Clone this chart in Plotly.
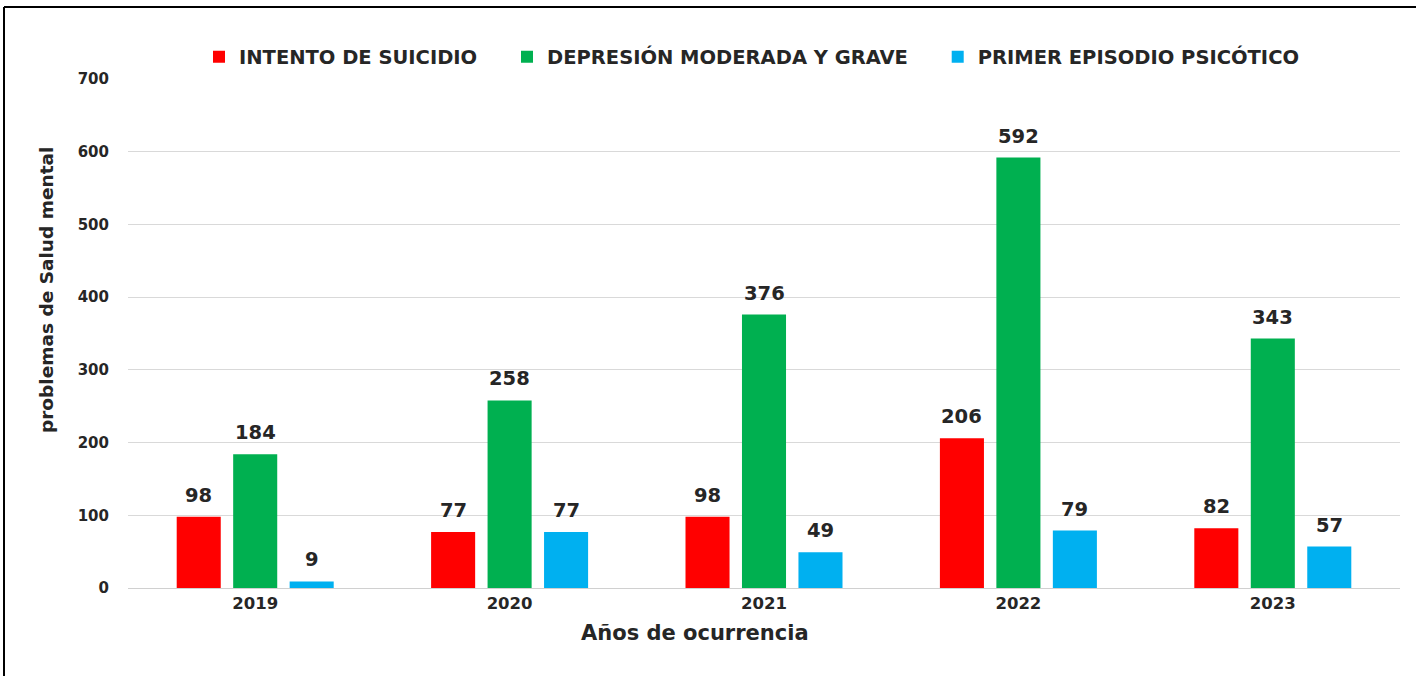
import plotly.graph_objects as go

years = ["2019", "2020", "2021", "2022", "2023"]
intento = [98, 77, 98, 206, 82]
depresion = [184, 258, 376, 592, 343]
psicotico = [9, 77, 49, 79, 57]

series = [
    ("INTENTO DE SUICIDIO", intento, "#FF0000"),
    ("DEPRESIÓN MODERADA Y GRAVE", depresion, "#00B050"),
    ("PRIMER EPISODIO PSICÓTICO", psicotico, "#00B0F0"),
]

FONT = "DejaVu Sans, Verdana, sans-serif"
TXT = "#262626"
BARGAP, GROUPGAP = 0.334, 0.22

fig = go.Figure()
for k, (name, vals, col) in enumerate(series):
    pad = "&nbsp;" * 4 if k < len(series) - 1 else ""
    fig.add_trace(go.Bar(
        x=years, y=vals, name="<b>" + name + "</b>" + pad, marker_color=col, marker_line_width=0,
        hovertemplate="%{x}: %{y}<extra>" + name + "</extra>",
    ))

# value labels placed above each bar via the axes
slot = (1 - BARGAP) / len(series)
annotations = []
for k, (name, vals, col) in enumerate(series):
    off = (k - (len(series) - 1) / 2) * slot
    for i, v in enumerate(vals):
        annotations.append(dict(
            x=i + off, y=v, xref="x", yref="y", text="<b>%d</b>" % v, showarrow=False,
            yanchor="bottom", yshift=8, font=dict(family=FONT, size=19.5, color=TXT),
        ))

L, R, T, B = 128, 16, 79, 88
W, H = 1416, 676
pw, ph = W - L - R, H - T - B

def px(xp):
    return (xp - L) / pw

def py(yp):
    return (H - B - yp) / ph

annotations.append(dict(text="<b>problemas de Salud mental</b>", textangle=-90, showarrow=False,
                        xref="paper", yref="paper", x=px(46), y=py(290), xanchor="center", yanchor="middle",
                        font=dict(family=FONT, size=18.5, color=TXT)))
annotations.append(dict(text="<b>Años de ocurrencia</b>", showarrow=False,
                        xref="paper", yref="paper", x=px(695), y=py(633), xanchor="center", yanchor="middle",
                        font=dict(family=FONT, size=21, color=TXT)))

fig.update_layout(
    width=W, height=H,
    margin=dict(l=L, r=R, t=T, b=B),
    paper_bgcolor="white", plot_bgcolor="white",
    barmode="group", bargap=BARGAP, bargroupgap=GROUPGAP,
    font=dict(family=FONT, color=TXT),
    legend=dict(orientation="h", x=px(752), xanchor="center", y=1 + 22 / ph, yanchor="middle",
                font=dict(family=FONT, size=19.5, color=TXT),
                itemwidth=30, traceorder="normal"),
    xaxis=dict(showgrid=False, showline=True, linecolor="#D0D0D0", linewidth=1,
               tickfont=dict(family=FONT, size=16.5, color=TXT),
               tickprefix="<b>", ticksuffix="</b>"),
    yaxis=dict(range=[0, 700], dtick=100, showgrid=True, gridcolor="#D9D9D9", gridwidth=1,
               zeroline=False, ticks="", ticklabelstandoff=18,
               tickfont=dict(family=FONT, size=15, color=TXT),
               tickprefix="<b>", ticksuffix="</b>"),
    annotations=annotations,
    shapes=[
        dict(type="line", xref="paper", yref="paper",
             x0=px(4), x1=px(W + 10), y0=py(7), y1=py(7),
             line=dict(color="black", width=2)),
        dict(type="line", xref="paper", yref="paper",
             x0=px(4), x1=px(4), y0=py(7), y1=py(H + 10),
             line=dict(color="black", width=2)),
    ],
)

fig.write_html("out.html", config={"displayModeBar": False},
               post_script="document.body.style.margin='0';document.body.style.overflow='hidden';")
